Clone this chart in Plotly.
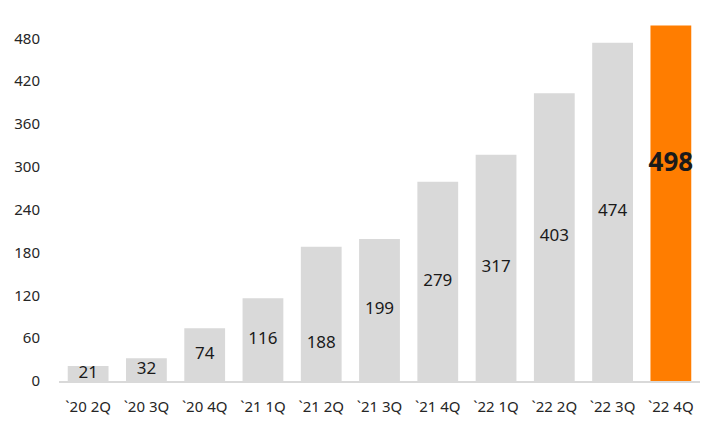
import plotly.graph_objects as go

categories = ["`20 2Q", "`20 3Q", "`20 4Q", "`21 1Q", "`21 2Q", "`21 3Q",
              "`21 4Q", "`22 1Q", "`22 2Q", "`22 3Q", "`22 4Q"]
values = [21, 32, 74, 116, 188, 199, 279, 317, 403, 474, 498]
y_ticks = [0, 60, 120, 180, 240, 300, 360, 420, 480]

gray = "#d9d9d9"
orange = "#ff7d00"
colors = [gray] * (len(values) - 1) + [orange]

# label position as fraction of bar height
label_frac = [0.5] * len(values)
label_frac[4] = 0.28
label_frac[-1] = 0.61
label_y = [v * f for v, f in zip(values, label_frac)]
label_text = [str(v) for v in values[:-1]] + ["<b>%d</b>" % values[-1]]
label_size = [17] * (len(values) - 1) + [26]

fig = go.Figure()
fig.add_trace(go.Bar(x=categories, y=values, marker=dict(color=colors, line=dict(width=0)),
                     width=0.7, hoverinfo="skip"))
fig.add_trace(go.Scatter(x=categories, y=label_y, mode="text", text=label_text,
                         textfont=dict(size=label_size, color="#1a1a1a",
                                       family="Noto Sans"),
                         textposition="middle center", hoverinfo="skip"))

fig.update_layout(
    width=717, height=429,
    margin=dict(l=59, r=17, t=17, b=48),
    plot_bgcolor="white", paper_bgcolor="white",
    showlegend=False,
    font=dict(family="Noto Sans", size=15, color="#262626"),
    xaxis=dict(range=[-0.5, 10.5], showline=True, linecolor=gray, linewidth=1.5,
               ticks="outside", ticklen=11, tickcolor="rgba(0,0,0,0)",
               showgrid=False, tickfont=dict(size=15)),
    yaxis=dict(range=[0, 510], tickvals=y_ticks, showgrid=False, zeroline=False,
               showline=False, ticks="outside", ticklen=15, tickcolor="rgba(0,0,0,0)",
               tickfont=dict(size=15)),
)

fig.write_html("out.html")
